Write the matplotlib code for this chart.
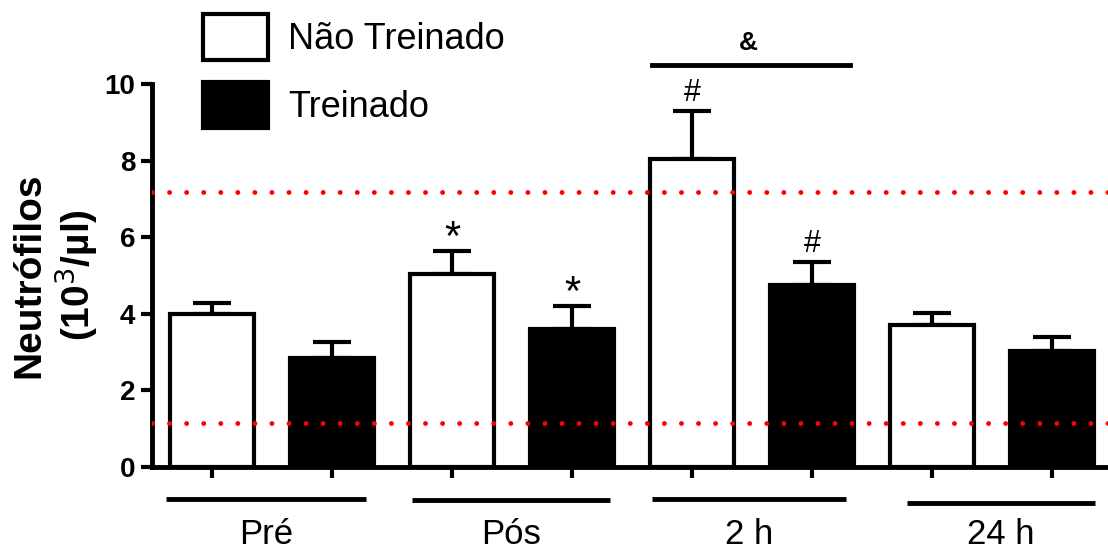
import numpy as np
import matplotlib.pyplot as plt

plt.rcParams['font.family'] = ['Liberation Sans', 'DejaVu Sans']

# neutrophil counts (10^3/ul), mean and upper SEM per moment
moments = ['Pré', 'Pós', '2 h', '24 h']
untrained = [4.0, 5.05, 8.05, 3.72]
untrained_err = [0.29, 0.58, 1.24, 0.30]
trained = [2.84, 3.60, 4.74, 3.02]
trained_err = [0.42, 0.60, 0.60, 0.37]
ref_low, ref_high = 1.15, 7.18

untrained_marks = ['', '*', '#', '']
trained_marks = ['', '*', '#', '']

fig = plt.figure(figsize=(11.08, 5.53), dpi=100)
ax = fig.add_axes([152 / 1108, 86 / 553, 956 / 1108, 383 / 553])

x_untr = np.arange(len(moments)) * 2
x_tr = x_untr + 1
w = 0.7
lw = 3.0

ax.bar(x_untr, untrained, width=w, color='white', edgecolor='black', linewidth=lw,
       label='Não Treinado', zorder=2)
ax.bar(x_tr, trained, width=w, color='black', edgecolor='black', linewidth=lw,
       label='Treinado', zorder=2)
for xs, ys, es in [(x_untr, untrained, untrained_err), (x_tr, trained, trained_err)]:
    ax.errorbar(xs, ys, yerr=[np.zeros(len(es)), es], fmt='none', ecolor='black',
                elinewidth=lw, capsize=14, capthick=lw, zorder=1)

# reference range
for ref in (ref_low, ref_high):
    ax.axhline(ref, color='red', linewidth=3.5, linestyle=(0, (0.01, 3.5)),
               dash_capstyle='round', zorder=5)

# significance symbols
for xs, ys, es, marks in [(x_untr, untrained, untrained_err, untrained_marks),
                          (x_tr, trained, trained_err, trained_marks)]:
    for xi, yi, ei, m in zip(xs, ys, es, marks):
        if m == '*':
            ax.text(xi, yi + ei - 0.2, m, ha='center', va='bottom', fontsize=30)
        elif m == '#':
            ax.text(xi, yi + ei + 0.08, m, ha='center', va='bottom', fontsize=22)

# '&' bracket over 2 h
ax.plot([x_untr[2] - 0.33, x_tr[2] + 0.32], [10.5, 10.5], color='black', lw=3.5,
        clip_on=False)
ax.text((x_untr[2] + x_tr[2]) / 2 - 0.03, 10.75, '&', ha='center', va='bottom',
        fontsize=19, fontweight='bold')

# group lines and labels under the axis
line_left = [0.38, 0.33, 0.33, 0.21]
line_right = [0.28, 0.32, 0.28, 0.36]
line_y = [-0.84, -0.86, -0.84, -0.94]
for xu, xt, name, l0, l1, ly in zip(x_untr, x_tr, moments, line_left, line_right, line_y):
    ax.plot([xu - l0, xt + l1], [ly, ly], color='black', lw=3.5,
            clip_on=False, solid_capstyle='butt')
    ax.text(((xu - l0) + (xt + l1)) / 2, -2.02, name, ha='center', va='baseline',
            fontsize=25)

ax.set_xlim(-0.5, 7.467)
ax.set_ylim(0, 10)
ax.set_yticks([0, 2, 4, 6, 8, 10])
ax.set_xticks(np.concatenate([x_untr, x_tr]))
ax.set_xticklabels([])
ax.tick_params(axis='both', width=3, length=8, direction='out')
ax.tick_params(axis='y', labelsize=20, pad=4)
for lab in ax.get_yticklabels():
    lab.set_fontweight('bold')
for side in ('top', 'right'):
    ax.spines[side].set_visible(False)
for side in ('left', 'bottom'):
    ax.spines[side].set_linewidth(3.5)

ax.set_ylabel('Neutrófilos\n(10$^3$/µl)', fontsize=28, fontweight='bold',
              linespacing=1.15, labelpad=3)

fig.legend(loc='upper left', bbox_to_anchor=(203 / 1108, 1 - 14 / 553), frameon=False,
           fontsize=26, handlelength=1.8, handleheight=1.6, labelspacing=0.6,
           handletextpad=0.55, borderpad=0, borderaxespad=0)

fig.savefig('out.png', dpi=100)
